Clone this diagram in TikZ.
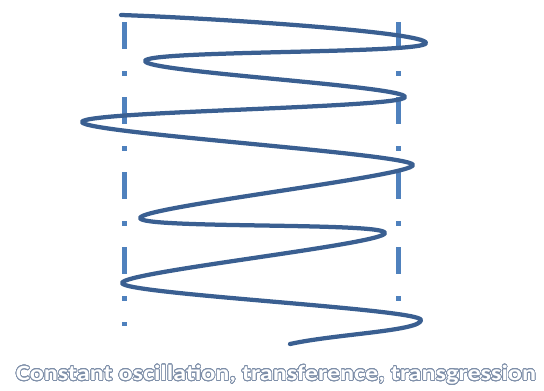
\documentclass[tikz,border=0pt]{standalone}
\usepackage{fontspec}
\setmainfont{Carlito}
\newfontfamily\capfont[FakeStretch=1.2]{Carlito}
\usepackage{contour}
\contourlength{0.38pt}
\contournumber{32}
\definecolor{guideblue}{RGB}{79,129,189}
\definecolor{coilblue}{RGB}{58,95,145}
\definecolor{captiongrey}{RGB}{125,142,168}
\tikzset{
  guide/.style={guideblue,line width=1mm,line cap=butt,
    dash pattern=on 5.4mm off 4.4mm on 1mm off 4.2mm},
  coil/.style={coilblue,line width=0.85mm,line cap=round},
  caption/.style={inner sep=0pt,font=\capfont\fontsize{12.4pt}{14pt}\selectfont\bfseries}
}

\begin{document}
\begin{tikzpicture}[x=0.2mm,y=-0.2mm,line join=round]
  \useasboundingbox (0,0) rectangle (544,390);
  % dash-dot guides
  \coordinate (lt) at (124,22);
  \coordinate (lb) at (124,326);
  \coordinate (rt) at (398,22);
  \coordinate (rb) at (398,302);
  \draw[guide] (lt) -- (lb);
  \draw[guide] (rt) -- (rb);
  % turning points of the coil
  \coordinate (p0) at (121,15);
  \coordinate (p1) at (426,43);
  \coordinate (p2) at (145,61);
  \coordinate (p3) at (405,97);
  \coordinate (p4) at (82,122);
  \coordinate (p5) at (413,165);
  \coordinate (p6) at (140,218);
  \coordinate (p7) at (385,233);
  \coordinate (p8) at (122,283);
  \coordinate (p9) at (421,320);
  \coordinate (p10) at (290,344);
  \draw[coil] (p0) .. controls +(90,3) and +(0,-11) .. (p1)
    .. controls +(0,11) and +(0,-11) .. (p2)
    .. controls +(0,11) and +(0,-11) .. (p3)
    .. controls +(0,11) and +(0,-11) .. (p4)
    .. controls +(0,11) and +(0,-11) .. (p5)
    .. controls +(0,11) and +(0,-11) .. (p6)
    .. controls +(0,11) and +(0,-11) .. (p7)
    .. controls +(0,11) and +(0,-11) .. (p8)
    .. controls +(0,11) and +(0,-11) .. (p9)
    .. controls +(0,11) and +(45,-10) .. (p10);
  \node[caption] (title) at (276,375)
    {\contour{captiongrey}{\textcolor{white}{Constant oscillation, transference, transgression}}};
\end{tikzpicture}
\end{document}
